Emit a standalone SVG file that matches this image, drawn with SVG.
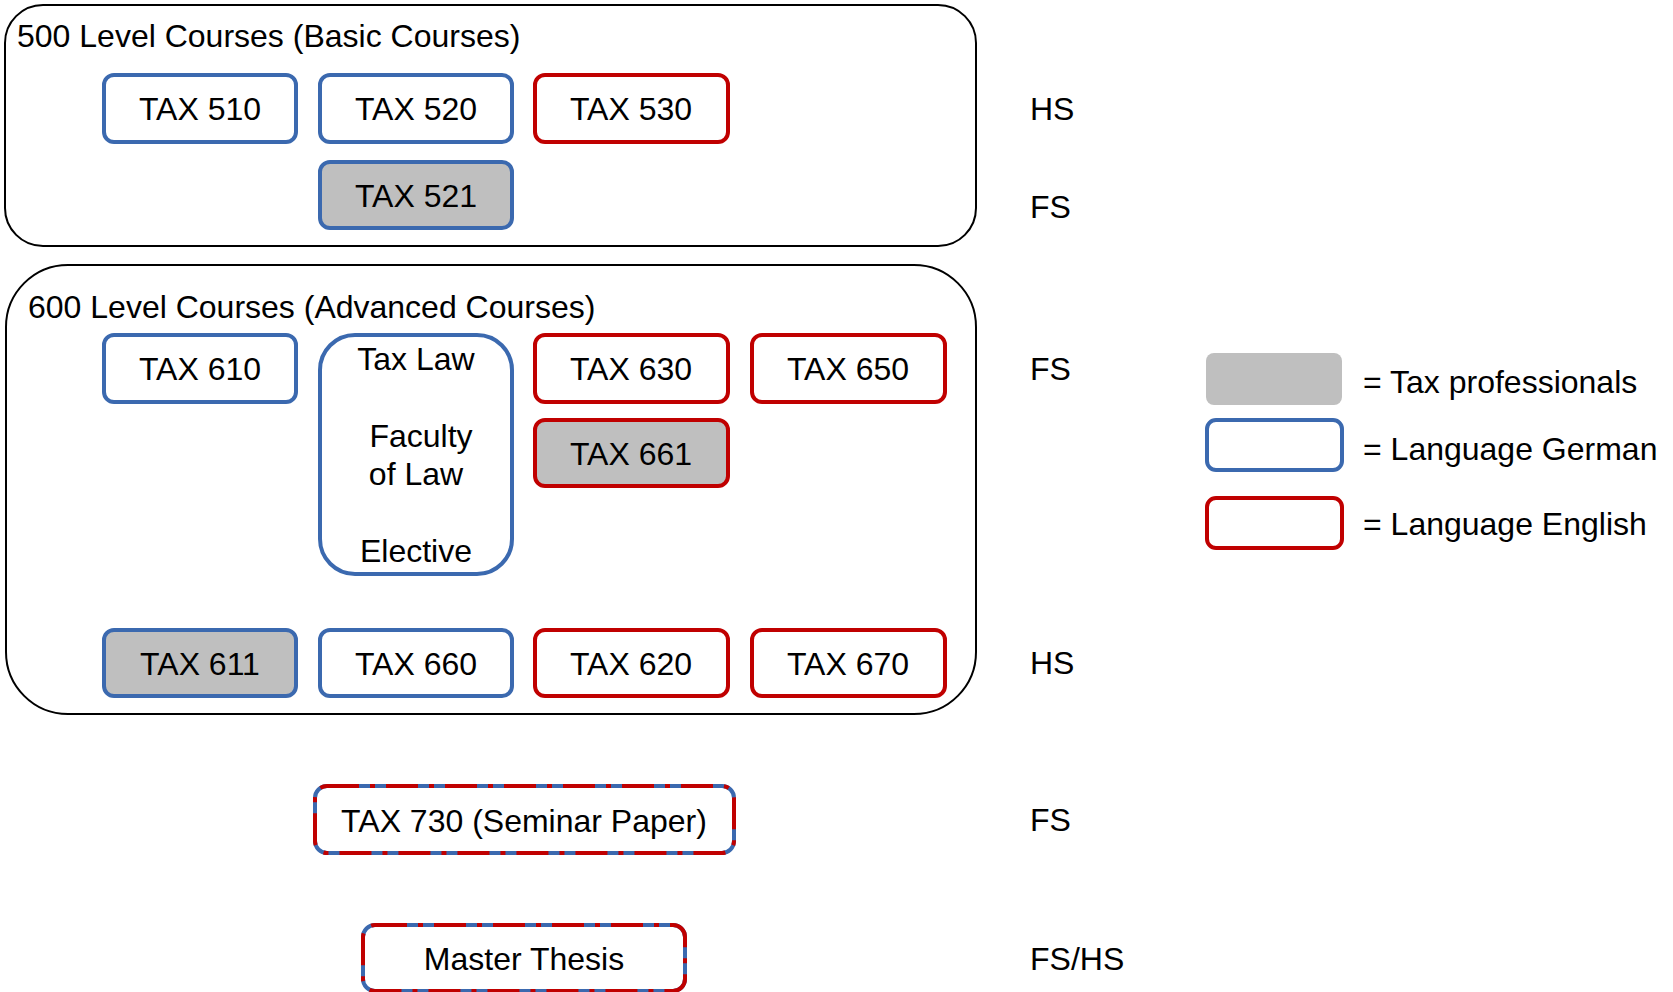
<svg xmlns="http://www.w3.org/2000/svg" width="1673" height="992" viewBox="0 0 1673 992">
<style>
text{font-family:"Liberation Sans",Arial,sans-serif;font-size:32px;fill:#000}
.c{text-anchor:middle}
.grp{fill:#fff;stroke:#000;stroke-width:2}
.de{fill:#fff;stroke:#3B69AF;stroke-width:4}
.en{fill:#fff;stroke:#C00000;stroke-width:4}
.pro{fill:#BFBFBF}
.mixb{fill:#fff;stroke:#3B69AF;stroke-width:4}
.mixr{fill:none;stroke:#C00000;stroke-width:4;stroke-dasharray:32 11 5 11}
</style>
<rect width="1673" height="992" fill="#fff"/>
<g id="group-500">
<rect class="grp" x="5" y="5" width="971" height="241" rx="38"/>
<text x="17" y="47">500 Level Courses (Basic Courses)</text>
</g>
<g id="group-600">
<rect class="grp" x="6" y="265" width="970" height="449" rx="62"/>
<text x="28" y="318">600 Level Courses (Advanced Courses)</text>
</g>
<g id="tax510"><rect class="de" x="104" y="75" width="192" height="67" rx="10"/><text class="c" x="200" y="120">TAX 510</text></g>
<g id="tax520"><rect class="de" x="320" y="75" width="192" height="67" rx="10"/><text class="c" x="416" y="120">TAX 520</text></g>
<g id="tax530"><rect class="en" x="535" y="75" width="193" height="67" rx="10"/><text class="c" x="631" y="120">TAX 530</text></g>
<g id="tax521"><rect class="de pro" x="320" y="162" width="192" height="66" rx="10"/><text class="c" x="416" y="207">TAX 521</text></g>
<g id="tax610"><rect class="de" x="104" y="335" width="192" height="67" rx="10"/><text class="c" x="200" y="380">TAX 610</text></g>
<g id="taxlaw"><rect class="de" x="320" y="335" width="192" height="239" rx="35"/>
<text class="c" x="416" y="370">Tax Law</text>
<text class="c" x="421" y="447">Faculty</text>
<text class="c" x="416" y="485">of Law</text>
<text class="c" x="416" y="562">Elective</text></g>
<g id="tax630"><rect class="en" x="535" y="335" width="193" height="67" rx="10"/><text class="c" x="631" y="380">TAX 630</text></g>
<g id="tax650"><rect class="en" x="752" y="335" width="193" height="67" rx="10"/><text class="c" x="848" y="380">TAX 650</text></g>
<g id="tax661"><rect class="en pro" x="535" y="420" width="193" height="66" rx="10"/><text class="c" x="631" y="465">TAX 661</text></g>
<g id="tax611"><rect class="de pro" x="104" y="630" width="192" height="66" rx="10"/><text class="c" x="200" y="675">TAX 611</text></g>
<g id="tax660"><rect class="de" x="320" y="630" width="192" height="66" rx="10"/><text class="c" x="416" y="675">TAX 660</text></g>
<g id="tax620"><rect class="en" x="535" y="630" width="193" height="66" rx="10"/><text class="c" x="631" y="675">TAX 620</text></g>
<g id="tax670"><rect class="en" x="752" y="630" width="193" height="66" rx="10"/><text class="c" x="848" y="675">TAX 670</text></g>
<g id="tax730"><rect class="mixb" x="315" y="786" width="419" height="67" rx="12"/><rect class="mixr" x="315" y="786" width="419" height="67" rx="12"/><text class="c" x="524" y="832">TAX 730 (Seminar Paper)</text></g>
<g id="thesis"><rect class="mixb" x="363" y="925" width="322" height="66" rx="12"/><rect class="mixr" x="363" y="925" width="322" height="66" rx="12"/><text class="c" x="524" y="970">Master Thesis</text></g>
<g id="semesters">
<text x="1030" y="120">HS</text>
<text x="1030" y="218">FS</text>
<text x="1030" y="380">FS</text>
<text x="1030" y="674">HS</text>
<text x="1030" y="831">FS</text>
<text x="1030" y="970">FS/HS</text>
</g>
<g id="legend">
<rect class="pro" x="1206" y="353" width="136" height="52" rx="8"/>
<text x="1363" y="393">= Tax professionals</text>
<rect class="de" x="1207" y="420" width="135" height="50" rx="9"/>
<text x="1363" y="460">= Language German</text>
<rect class="en" x="1207" y="498" width="135" height="50" rx="9"/>
<text x="1363" y="535">= Language English</text>
</g>
<g id="connectors"></g>
</svg>
